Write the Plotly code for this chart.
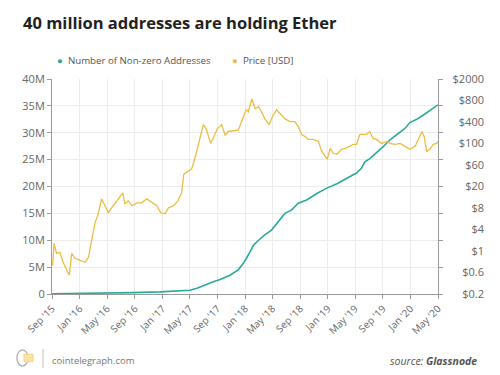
import numpy as np
import plotly.graph_objects as go

# ---- data ----
addr_dates = ["2015-09-01", "2016-01-03", "2016-05-01", "2016-08-24", "2016-12-21", "2017-04-01",
              "2017-05-01", "2017-06-02", "2017-07-16", "2017-08-13", "2017-09-12", "2017-10-26",
              "2017-12-01", "2017-12-24", "2018-01-15", "2018-02-07", "2018-03-01", "2018-03-28",
              "2018-04-27", "2018-05-26", "2018-06-25", "2018-07-24", "2018-08-23", "2018-09-29",
              "2018-11-13", "2018-12-27", "2019-02-10", "2019-03-24", "2019-05-07", "2019-05-29",
              "2019-06-13", "2019-07-05", "2019-08-04", "2019-09-02", "2019-10-02", "2019-11-01",
              "2019-12-07", "2019-12-29", "2020-01-28", "2020-02-27", "2020-03-26", "2020-05-01"]
addr_values = [0.05, 0.1, 0.17, 0.25, 0.4, 0.55,
               0.7, 1.05, 1.9, 2.3, 2.7, 3.5,
               4.5, 5.7, 7.3, 9.1, 10.0, 11.0,
               11.9, 13.5, 15.0, 15.6, 16.9, 17.5,
               18.7, 19.7, 20.5, 21.5, 22.5, 23.4,
               24.6, 25.2, 26.3, 27.4, 28.7, 29.6,
               30.8, 31.9, 32.5, 33.3, 34.1, 35.2]  # millions

price_dates = ["2015-09-04", "2015-09-10", "2015-09-21", "2015-10-06", "2015-10-20", "2015-11-05",
               "2015-11-16", "2015-11-27", "2015-12-11", "2016-01-03", "2016-01-25", "2016-02-09",
               "2016-02-24", "2016-03-08", "2016-03-23", "2016-04-07", "2016-04-22", "2016-05-06",
               "2016-05-21", "2016-06-05", "2016-06-20", "2016-07-09", "2016-07-19", "2016-08-03",
               "2016-08-18", "2016-09-10", "2016-10-01", "2016-10-23", "2016-11-15", "2016-12-07",
               "2016-12-24", "2017-01-13", "2017-01-27", "2017-02-19", "2017-03-10", "2017-03-26",
               "2017-04-05", "2017-04-24", "2017-05-09", "2017-05-24", "2017-06-07", "2017-06-18",
               "2017-06-30", "2017-07-14", "2017-08-01", "2017-08-16", "2017-08-31", "2017-09-19",
               "2017-10-04", "2017-10-18", "2017-11-10", "2017-12-01", "2017-12-16", "2018-01-05",
               "2018-01-15", "2018-01-30", "2018-02-14", "2018-03-01", "2018-03-14", "2018-03-28",
               "2018-04-17", "2018-05-01", "2018-05-19", "2018-06-03", "2018-06-25", "2018-07-17",
               "2018-08-08", "2018-08-23", "2018-09-07", "2018-09-22", "2018-10-06", "2018-10-28",
               "2018-11-20", "2018-12-05", "2018-12-19", "2018-12-29", "2019-01-11", "2019-01-25",
               "2019-02-10", "2019-03-02", "2019-03-21", "2019-04-08", "2019-04-22", "2019-05-07",
               "2019-05-22", "2019-06-06", "2019-06-21", "2019-07-05", "2019-07-19", "2019-08-04",
               "2019-08-26", "2019-09-18", "2019-10-02", "2019-10-24", "2019-11-16", "2019-12-07",
               "2019-12-29", "2020-01-21", "2020-02-08", "2020-02-20", "2020-03-01", "2020-03-12",
               "2020-03-26", "2020-04-10", "2020-04-25", "2020-05-01"]
price_values = [0.71, 1.62, 0.945, 0.97, 0.765, 0.633,
                0.52, 0.945, 0.84, 0.80, 0.765, 0.86,
                2.24, 4.83, 6.65, 11.8, 8.8, 6.86,
                8.07, 9.56, 11.8, 15.2, 9.56, 10.85,
                8.8, 9.97, 9.97, 11.8, 9.97, 8.8,
                6.86, 6.65, 8.07, 8.8, 10.85, 15.2,
                37.7, 43.8, 48.5, 70.4, 97.9, 179,
                339, 246, 100.7, 157, 262, 339,
                170, 217, 231, 235, 405, 594,
                557, 859, 614, 654, 557, 446,
                339, 475, 594, 523, 446, 405,
                405, 298, 179, 157, 130, 130,
                114, 83, 73.8, 68.8, 89.1, 79.2,
                77.4, 87, 89.1, 93.4, 97.9, 97.9,
                179, 179, 179, 217, 138.5, 130,
                100.7, 114, 100.7, 97.9, 100.7, 93.4,
                87, 93.4, 157, 217, 157, 83,
                87, 97.9, 100.7, 114]

left_tick_values = [0, 5, 10, 15, 20, 25, 30, 35, 40]  # millions
left_tick_labels = ["0", "5M", "10M", "15M", "20M", "25M", "30M", "35M", "40M"]
right_tick_values = [0.2, 0.6, 1, 4, 8, 20, 60, 100, 400, 800, 2000]
right_tick_labels = ["$0.2", "$0.6", "$1", "$4", "$8", "$20", "$60", "$100", "$400", "$800", "$2000"]
x_tick_dates = ["2015-09-01", "2016-01-01", "2016-05-01", "2016-09-01", "2017-01-01", "2017-05-01",
                "2017-09-01", "2018-01-01", "2018-05-01", "2018-09-01", "2019-01-01", "2019-05-01",
                "2019-09-01", "2020-01-01", "2020-05-01"]

TEAL = "#2aab9a"
GOLD = "#ecbd42"
GRID = "#ececec"
AXIS = "#9a9a9a"
TXT = "#666666"
FONT = "Open Sans"

# the price axis uses evenly spaced, non-uniform tick values: piecewise-log scale
def price_scale(p):
    return np.interp(np.log(np.asarray(p, dtype=float)), np.log(right_tick_values),
                     np.arange(len(right_tick_values)))

fig = go.Figure()
fig.add_trace(go.Scatter(x=addr_dates, y=np.array(addr_values) * 1e6, mode="lines",
                         line=dict(color=TEAL, width=1.6), showlegend=False,
                         name="Number of Non-zero Addresses"))
fig.add_trace(go.Scatter(x=price_dates, y=price_scale(price_values), mode="lines",
                         line=dict(color=GOLD, width=1.3), yaxis="y2", showlegend=False,
                         name="Price [USD]"))

XDOM = 386 / 444
fig.update_layout(
    width=500, height=375,
    margin=dict(l=44, r=12, t=71, b=89, autoexpand=False),
    paper_bgcolor="white", plot_bgcolor="white",
    font=dict(family=FONT, size=10, color=TXT),
    xaxis=dict(type="date", domain=[0, XDOM], range=["2015-09-01", "2020-05-01"],
               tickvals=x_tick_dates, tickformat="%b '%y", tickangle=-45, showgrid=True,
               gridcolor=GRID, gridwidth=1, showline=True, linecolor=AXIS, linewidth=1,
               ticks="outside", ticklen=4, tickcolor=AXIS, tickfont=dict(size=10, color=TXT),
               zeroline=False, automargin=False),
    yaxis=dict(range=[0, 40e6], tickvals=[v * 1e6 for v in left_tick_values],
               ticktext=left_tick_labels, showgrid=True, gridcolor=GRID, showline=True,
               linecolor=AXIS, linewidth=1, ticks="outside", ticklen=4, tickcolor=AXIS,
               mirror="ticks", zeroline=False, tickfont=dict(size=11, color=TXT),
               automargin=False),
    yaxis2=dict(overlaying="y", side="right", anchor="free", position=1.0,
                range=[0, len(right_tick_values) - 1],
                tickvals=list(range(len(right_tick_values))), ticktext=right_tick_labels,
                ticklabelposition="inside", ticklabeloverflow="allow", showgrid=False,
                showline=False, ticks="", zeroline=False, ticklabelstandoff=9,
                tickfont=dict(size=11, color=TXT), automargin=False),
)

# title
fig.add_annotation(text="<b>40 million addresses are holding Ether</b>", xref="paper", yref="paper",
                   x=-0.0698, y=1.265, xanchor="left", yanchor="middle", showarrow=False,
                   font=dict(family=FONT, size=16.5, color="#222222"))
# legend (as annotations)
fig.add_annotation(text=f"<span style='color:{TEAL}'>●</span>  Number of Non-zero Addresses",
                   xref="paper", yref="paper", x=0.006, y=1.085, xanchor="left", yanchor="middle",
                   showarrow=False, font=dict(family=FONT, size=9.7, color="#555555"))
fig.add_annotation(text=f"<span style='color:{GOLD}'>●</span>  Price [USD]",
                   xref="paper", yref="paper", x=0.402, y=1.085, xanchor="left", yanchor="middle",
                   showarrow=False, font=dict(family=FONT, size=9.7, color="#555555"))
# footer
fig.add_annotation(text="cointelegraph.com", xref="paper", yref="paper", x=-0.005, y=-0.31,
                   xanchor="left", yanchor="middle", showarrow=False,
                   font=dict(family=FONT, size=9.5, color="#777777"))
fig.add_annotation(text="<i>source: <b>Glassnode</b></i>", xref="paper", yref="paper", x=0.9617,
                   y=-0.31, xanchor="right", yanchor="middle", showarrow=False,
                   font=dict(family=FONT, size=10.5, color="#555555"))
fig.add_shape(type="line", xref="paper", yref="paper", x0=-0.0203, x1=-0.0203, y0=-0.256, y1=-0.344,
              line=dict(color="#bbbbbb", width=1))
# small logo
fig.add_shape(type="circle", xref="paper", yref="paper", x0=-0.079, x1=-0.054, y0=-0.335, y1=-0.26,
              line=dict(color="#a9a9a9", width=1.2), fillcolor="white")
fig.add_shape(type="rect", xref="paper", yref="paper", x0=-0.063, x1=-0.043, y0=-0.315, y1=-0.28,
              line=dict(color="#f1d27a", width=1), fillcolor="#f7e3a6")

fig.write_html("out.html")
